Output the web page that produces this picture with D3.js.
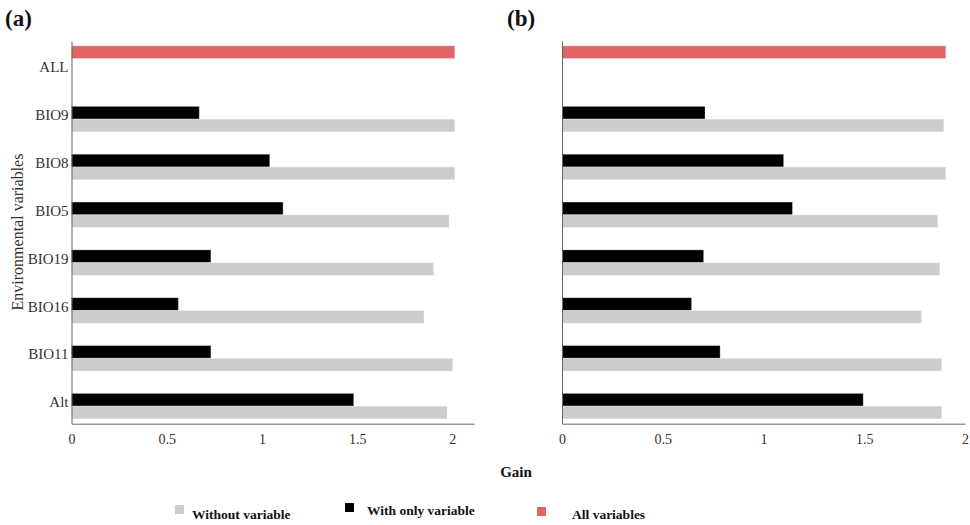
<!DOCTYPE html>
<html>
<head>
<meta charset="utf-8">
<script src="https://cdn.jsdelivr.net/npm/d3@7"></script>
<style>
  body { margin: 0; background: #fff; }
  svg text { font-family: "Liberation Serif", "Times New Roman", Times, serif !important; }
</style>
</head>
<body>
<svg id="chart" width="970" height="525" font-family="Liberation Serif"></svg>
<script>
// Data
const categories = ["ALL", "BIO9", "BIO8", "BIO5", "BIO19", "BIO16", "BIO11", "Alt"];
const subgroups = ["all", "only", "without"];
const tickValues = [0, 0.5, 1, 1.5, 2];

// panel (a)
const allA = 2.013;
const onlyA = [null, 0.671, 1.041, 1.111, 0.732, 0.561, 0.732, 1.482];
const withoutA = [null, 2.013, 2.013, 1.983, 1.902, 1.851, 2.002, 1.973];

// panel (b)
const allB = 1.905;
const onlyB = [null, 0.71, 1.10, 1.144, 0.703, 0.643, 0.785, 1.495];
const withoutB = [null, 1.895, 1.905, 1.865, 1.875, 1.785, 1.885, 1.885];

const legendLabels = ["Without variable", "With only variable", "All variables"];
const colors = { all: "#e06666", only: "#000000", without: "#cccccc" };
const serif = "Liberation Serif";

const svg = d3.select("#chart");

function buildRows(allVal, only, without) {
    const rows = [];
    categories.forEach((c, i) => {
        if (c === "ALL") rows.push({ cat: c, key: "all", value: allVal });
        if (only[i] != null) rows.push({ cat: c, key: "only", value: only[i] });
        if (without[i] != null) rows.push({ cat: c, key: "without", value: without[i] });
    });
    return rows;
}

function drawPanel(x0, x1, rows, showLabels) {
    const maxVal = d3.max(rows, d => d.value);
    const x = d3.scaleLinear().domain([0, maxVal * 1.05]).range([x0, x1]);
    const y = d3.scaleBand().domain(categories).range([41, 423.7])
        .paddingInner(0.2).paddingOuter(0.1);
    const ySub = d3.scaleBand().domain(subgroups).range([0, y.bandwidth()]);

    const g = svg.append("g");

    g.selectAll("rect.bar")
        .data(rows)
        .join("rect")
        .attr("class", "bar")
        .attr("x", x(0))
        .attr("y", d => y(d.cat) + ySub(d.key))
        .attr("width", d => x(d.value) - x(0))
        .attr("height", ySub.bandwidth())
        .attr("fill", d => colors[d.key])
        .attr("stroke", "#fff")
        .attr("stroke-opacity", 0.3)
        .attr("stroke-width", 1);

    // x axis
    const xAxis = g.append("g")
        .attr("transform", `translate(0, ${y.range()[1]})`)
        .call(d3.axisBottom(x).tickValues(tickValues).tickFormat(d3.format("")).tickSize(0).tickPadding(10))
        .attr("font-family", serif)
        .attr("font-size", 14);
    xAxis.select(".domain").attr("stroke", "#666");
    xAxis.selectAll("text").attr("fill", "#333");

    // y axis
    const yAxis = g.append("g")
        .attr("transform", `translate(${x(0)}, 0)`)
        .call(d3.axisLeft(y).tickSize(0).tickPadding(3)
            .tickFormat(showLabels ? (d => d) : () => ""))
        .attr("font-family", serif)
        .attr("font-size", 15);
    yAxis.select(".domain").attr("stroke", "#666");
    yAxis.selectAll("text").attr("fill", "#333").attr("dy", "0.5em");
}

drawPanel(71.5, 474, buildRows(allA, onlyA, withoutA), true);
drawPanel(562, 965, buildRows(allB, onlyB, withoutB), false);

// panel labels
svg.append("text").attr("x", 5).attr("y", 26).text("(a)")
    .attr("font-size", 23).attr("font-weight", "bold").attr("fill", "#111");
svg.append("text").attr("x", 507).attr("y", 26).text("(b)")
    .attr("font-size", 23).attr("font-weight", "bold").attr("fill", "#111");

// axis titles
svg.append("text")
    .attr("transform", "translate(23, 232) rotate(-90)")
    .attr("text-anchor", "middle")
    .attr("font-size", 16)
    .attr("fill", "#333")
    .text("Environmental variables");

svg.append("text")
    .attr("x", 516).attr("y", 477)
    .attr("text-anchor", "middle")
    .attr("font-size", 15)
    .attr("font-weight", "bold")
    .attr("fill", "#111")
    .text("Gain");

// legend
const legendItems = [
    { key: "without", label: legendLabels[0], sx: 175, sy: 505, tx: 192, ty: 519 },
    { key: "only", label: legendLabels[1], sx: 345, sy: 503, tx: 367, ty: 515 },
    { key: "all", label: legendLabels[2], sx: 537, sy: 507, tx: 572, ty: 519 }
];
const leg = svg.append("g").selectAll("g").data(legendItems).join("g");
leg.append("rect")
    .attr("x", d => d.sx).attr("y", d => d.sy)
    .attr("width", 9).attr("height", 9)
    .attr("fill", d => colors[d.key]);
leg.append("text")
    .attr("x", d => d.tx).attr("y", d => d.ty)
    .attr("font-size", 13.5).attr("font-weight", "bold").attr("fill", "#111")
    .text(d => d.label);
</script>
</body>
</html>
